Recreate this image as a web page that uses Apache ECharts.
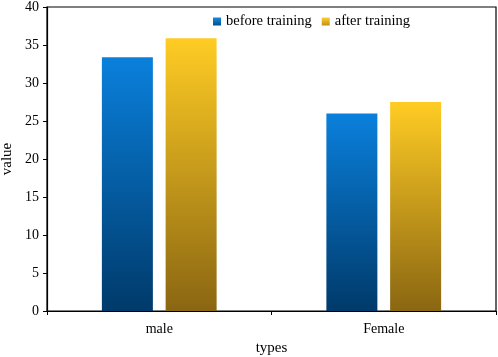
<!DOCTYPE html>
<html><head><meta charset="utf-8">
<script src="https://cdn.jsdelivr.net/npm/echarts@6/dist/echarts.min.js"></script>
<style>html,body{margin:0;padding:0;background:#fff}#c{width:498px;height:357px}</style>
</head><body><div id="c"></div>
<script>
const categories = ["male", "Female"];
const seriesNames = ["before training", "after training"];
const beforeValues = [33.4, 26.0];
const afterValues = [35.9, 27.5];
const yTicks = [0, 5, 10, 15, 20, 25, 30, 35, 40];

const font = "'Liberation Serif', 'Times New Roman', serif";
function grad(top, bottom) {
  return new echarts.graphic.LinearGradient(0, 0, 0, 1, [
    {offset: 0, color: top}, {offset: 1, color: bottom}
  ]);
}
const chart = echarts.init(document.getElementById('c'));
chart.setOption({
  animation: false,
  textStyle: {fontFamily: font},
  grid: {left: 47, right: 2, top: 7, bottom: 46, show: true, borderColor: '#000', borderWidth: 1.2,
         containLabel: false, outerBoundsMode: 'none'},
  legend: {
    top: 9, left: 208, itemGap: 10, itemWidth: 8, itemHeight: 8, icon: 'rect',
    textStyle: {fontFamily: font, fontSize: 14.5, color: '#000'},
    data: [
      {name: seriesNames[0], itemStyle: {color: grad('#1a8ae0', '#00508f')}},
      {name: seriesNames[1], itemStyle: {color: grad('#ffd030', '#c09018')}}
    ]
  },
  xAxis: {
    type: 'category', data: categories, name: 'types', nameLocation: 'middle', nameGap: 28,
    nameTextStyle: {fontFamily: font, fontSize: 15, color: '#000'},
    axisLine: {lineStyle: {color: '#000', width: 1.2}},
    axisTick: {show: true, length: 4, lineStyle: {color: '#000'}},
    axisLabel: {fontFamily: font, fontSize: 14, color: '#000', margin: 11}
  },
  yAxis: {
    type: 'value', min: 0, max: 40, interval: 5, name: 'value', nameLocation: 'middle', nameGap: 30,
    nameTextStyle: {fontFamily: font, fontSize: 15, color: '#000'},
    axisLine: {show: true, lineStyle: {color: '#000', width: 1.2}},
    axisTick: {show: true, length: 4, lineStyle: {color: '#000'}},
    axisLabel: {fontFamily: font, fontSize: 14, color: '#000', margin: 8,
      formatter: v => yTicks.includes(v) ? String(v) : ''},
    splitLine: {show: false}
  },
  series: [
    {name: seriesNames[0], type: 'bar', data: beforeValues, barWidth: 51, barGap: '25%',
     itemStyle: {color: grad('#0a80dc', '#003a6a')}},
    {name: seriesNames[1], type: 'bar', data: afterValues, barWidth: 51,
     itemStyle: {color: grad('#ffcc24', '#8a6612')}}
  ]
});
</script></body></html>
